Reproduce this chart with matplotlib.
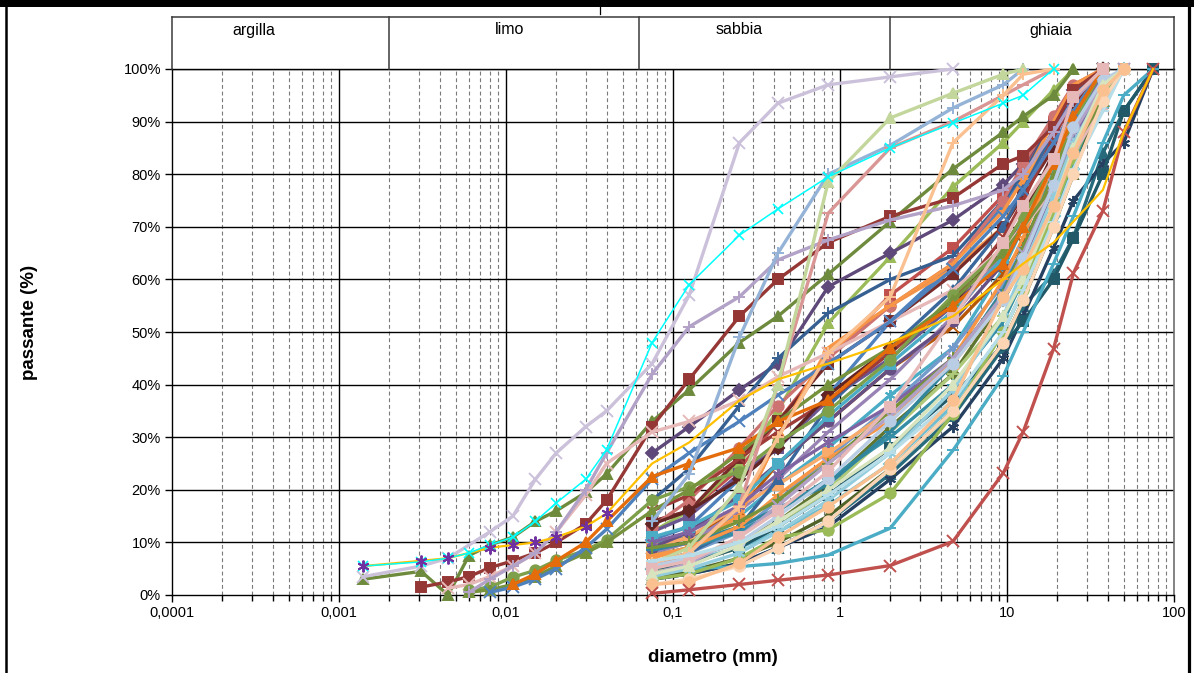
import numpy as np
import matplotlib
matplotlib.use("Agg")
import matplotlib.pyplot as plt
from matplotlib.lines import Line2D
from matplotlib.patches import Rectangle
from matplotlib.ticker import FixedLocator, NullFormatter

plt.rcParams['font.family'] = ['Liberation Sans', 'DejaVu Sans']

# ---------------------------------------------------------------------------
# Diameters (mm): sedimentation readings and sieve openings
hydro_mm = [0.0014, 0.0031, 0.0045, 0.006, 0.008, 0.011, 0.015, 0.02, 0.03, 0.04]
sieve_mm = [0.075, 0.125, 0.25, 0.425, 0.85, 2, 4.75, 9.5, 12.5, 19, 25, 37.5, 50, 75]

# Percent passing, samples with sedimentation analysis (fine part, sieve part)
h01_fine = [3, 4.5, 0, 7.5, 9.5, 11, 14, 16, 19.5, 23]
h01_sieve = [33, 39, 48, 53, 61, 71, 81, 88, 91, 95, 100]
h02_fine = [3.5, 5.5, 7, None, 12, 15, 22, 27, 32, 35]
h02_sieve = [44, 57, 86, 93.5, 97, 98.5, 100]
h03_fine = [5.5, 6.5, 7, None, 9, 9.5, 10, 11, 13, 15.5]
h03_sieve = [25, 29, 37, 41, 44, 48, 53, 60, 63, 67, 71, 77, 88, 100]
h04_fine = [None, 1.5, 2.5, 3.5, 5.2, 6.5, 8, 10, 13.5, 18]
h04_sieve = [32, 41, 53, 60, 67, 72, 75.5, 82, 83.5, 89, 96, 100]
h05_fine = [None, None, 1.3, 2, 3.5, 5.5, 8, 12, 19, 25]
h05_sieve = [31, 33, 37, 41.5, 46, 52, 58, 66, 70, 77, 84, 93, 100]
h06_fine = [None, None, None, 0.9, 1.5, 3.4, 4.7, 6.6, 8.5, 10.5]
h06_sieve = [18, 20.6, 23.4, 29, 35, 44.7, 57, 66, 72, 82, 90, 100]
h07_fine = [None, None, None, 0.5, 1, 2, 3.5, 5.5, 8, 10]
h07_sieve = [16, 20, 27, 33, 40, 47, 56, 65, 70, 78, 85, 94, 100]
h08_fine = [None, None, None, None, 0.5, 1.5, 3, 5, 9, 12.5]
h08_sieve = [22, 27, 33, 38, 44, 52, 62, 72, 77, 86, 92, 100]
h09_fine = [5.5, 6.3, 7, 8, 9.5, 11, 14, 17.5, 22, 27.6]
h09_sieve = [48, 59, 68.4, 73.4, 79.5, 85, 89.7, 93.5, 95, 100]
h10_fine = [None, None, None, 0.5, 3, 5.5, 8, 12, 20, 27]
h10_sieve = [42, 51, 56.7, 63.7, 67.5, 71.3, 74, 77, 80, 88, 94, 100]
h11_fine = [None, None, None, None, None, 2, 4, 6.5, 10, 14]
h11_sieve = [22.5, 25, 28, 33, 37, 47, 55, 63, 70, 82, 91, 100]

# Percent passing, sieve-only samples
s01 = [10.5, 13, 22, 28, 38, 52, 63, 74, 80, 88, 95, 100]
s02 = [14, 16, 24, 33, 45, 57, 66, 76, 81, 90, 96, 100]
s03 = [12, 16, 25, 35, 51.7, 64.3, 77.6, 86, 90, 96, 100]
s04 = [27, 32, 39, 44, 58.6, 65, 71.3, 78, 82, 90, 96, 100]
s05 = [10, 11, 15, 21, 28, 38, 47, 62, 70, 82, 90, 100]
s06 = [8, 10, 15, 30, 46, 55, 62, 70, 78, 88, 94, 100]
s07 = [18, 24, 36, 45, 53.6, 60, 64.5, 75, 80, 90, 96, 100]
s08 = [14, 16, 26, 33, 44, 52, 61, 70, 76, 85, 93, 100]
s09 = [5, 7, 10, 14, 21, 32, 42, 56, 63, 76, 86, 100]
s10 = [12, 15, 23, 28, 37, 45, 55, 64, 70, 81, 89, 100]
s11 = [3, 4, 6, 9, 14, 23, 34, 47, 55, 61, 68, 84, 92, 100]
s12 = [9, 11, 16, 25, 33, 43, 51, 61, 67, 78, 87, 100]
s13 = [6, 8, 12, 18, 26, 36, 47, 59, 66, 78, 87, 97, 100]
s14 = [13, 18, 28, 36, 45, 55, 63, 75, 82, 91, 97, 100]
s15 = [4.5, 6, 9, 13, 20, 31, 42, 53, 60, 73, 84, 95, 100]
s16 = [8, 10, 16, 22, 31, 41, 53, 65, 72, 84, 92, 100]
s17 = [5, 6.5, 9, 12, 17, 25, 36, 50, 58, 72, 81, 93, 100]
s18 = [9, 11, 17, 21, 27, 35, 44, 56, 63, 76, 85, 96, 100]
s19 = [6, 8, 13, 22, 36, 47, 58, 70, 77, 88, 95, 100]
s20 = [16, 19, 26, 31, 37, 46, 56, 68, 75, 87, 94, 100]
s21 = [9, 12, 19, 25, 33, 43, 52, 63, 70, 82, 90, 100]
s22 = [7.5, 9, 12, 16, 22, 30, 40, 52, 60, 73, 82, 94, 100]
s23 = [7, 9, 15, 30, 47, 55, 63, 73, 79, 90, 97, 100]
s24 = [3, 4, 6, 9, 13, 22, 32, 45, 53, 66, 75, 82, 86, 100]
s25 = [13.5, 16, 22, 28, 38, 47, 55.5, 66, 72, 84, 92, 100]
s26 = [3, 4.5, 7, 10, 15, 24, 35, 48, 56, 70, 80, 95, 100]
s27 = [11, 13, 18, 25, 34, 44, 54, 64, 70, 80, 88, 100]
s28 = [5, 6, 9, 13, 19, 28, 38, 47.5, 52, 60, 67.8, 80, 92, 100]
s29 = [4, 5, 5.4, 6, 7.6, 12.7, 27.5, 41.6, 50, 63, 72, 86, 95, 100]
s30 = [8.5, 10, 13, 16.5, 21, 31, 44, 58, 66, 80, 90, 100]
s31 = [3, 4, 7, 11, 12.4, 19.3, 34.4, 50, 58, 73, 83, 95, 100]
s32 = [10, 12, 17, 23, 29, 36, 45, 57, 64, 76, 86, 100]
s33 = [7.5, 9, 13, 19, 26, 33, 45, 60, 68, 82, 92, 100]
s34 = [9, 10, 14, 18, 25, 35, 45, 57, 66, 80, 90, 100]
s35 = [14, 23, 49, 65, 80, 85.5, 92.6, 97, 100]
s36 = [5, 8, 17, 40, 72.6, 85, 90, 95, 97, 100]
s37 = [6, 9, 20.5, 40, 78.5, 90.7, 95.4, 99, 100]
s38 = [4, 6, 11, 17, 25, 34, 45, 57, 65, 78, 88, 97, 100]
s39 = [3.5, 5, 8, 12, 18, 27, 39, 53, 62, 76, 86, 96, 100]
s40 = [6, 8, 16.8, 30, 46, 56.7, 86, 95, 99, 100]
s41 = [5.5, 7, 10, 15, 22, 33, 44, 56, 64, 78, 89, 98, 100]
s42 = [5, 6.5, 11, 16, 23.5, 35.8, 52.6, 67, 74, 82.8, 94.6, 100]
s43 = [4, 5.5, 9.5, 14, 20, 28, 40, 53, 60, 74, 85, 97, 100]
s44 = [6.5, 7.5, 10, 13, 19, 27, 37, 50, 58, 71, 81, 92, 100]
s45 = [2, 3, 5.5, 9, 14, 24, 35, 48, 56, 70, 80, 94, 100]
s46 = [2, 2.5, 6, 11, 16.8, 25, 37, 56.6, 62, 74, 84, 96, 100]
s47 = [0.3, 1, 2, 2.8, 3.8, 5.6, 10.2, 23.2, 31, 46.8, 61.2, 73, 88, 100]

# Axis labels and tick texts
x_ticks = [0.0001, 0.001, 0.01, 0.1, 1, 10, 100]
x_tick_labels = ["0,0001", "0,001", "0,01", "0,1", "1", "10", "100"]
y_ticks = [0, 10, 20, 30, 40, 50, 60, 70, 80, 90, 100]
y_tick_labels = [f"{v}%" for v in y_ticks]
class_names = ["argilla", "limo", "sabbia", "ghiaia"]
class_limits = [0.0001, 0.002, 0.063, 2, 100]

# ---------------------------------------------------------------------------
# Drawing order and styles (dark series first, pale series on top)
ASTER = (6, 2, 0)
series = [
    (None, s01, "#4F81BD", "D"), (None, s02, "#C0504D", "s"),
    (None, s03, "#9BBB59", "^"), (None, s04, "#5F497A", "D"),
    (None, s05, "#4BACC6", ASTER), (None, s06, "#F79646", "o"),
    (None, s07, "#376092", "+"), (None, s08, "#772C2A", "s"),
    (None, s09, "#5F7530", "D"), (None, s10, "#6A5690", "s"),
    (None, s11, "#276A7C", "^"), (None, s12, "#B65708", "x"),
    (None, s13, "#729ACA", ASTER), (None, s14, "#CD7371", "o"),
    (None, s15, "#AFC97A", "+"), (None, s16, "#9983B5", "_"),
    (None, s17, "#6FBDD1", "D"), (None, s18, "#F9AB6B", "s"),
    (None, s19, "#3A679C", "^"), (None, s20, "#9E3B38", "x"),
    (None, s21, "#664F83", "o"), (None, s22, "#358EA6", "+"),
    (None, s23, "#F79646", "_"), (None, s24, "#254061", ASTER),
    (None, s25, "#632523", "D"), (None, s26, "#4F6228", "^"),
    (None, s27, "#4BACC6", "s"), (None, s28, "#215968", "s"),
    (None, s29, "#4BACC6", "_"), (None, s30, "#31859C", "_"),
    (None, s31, "#9BBB59", "o"), (None, s32, "#8064A2", ASTER),
    (None, s33, "#F79646", "_"), (None, s34, "#77933C", "+"),
    (h01_fine, h01_sieve, "#6E8B3D", "^"),
    (h02_fine, h02_sieve, "#CCC1DA", "x"),
    (h04_fine, h04_sieve, "#953735", "s"),
    (h05_fine, h05_sieve, "#E6B9B8", "x"),
    (h06_fine, h06_sieve, "#7EA04A", "o"),
    (h07_fine, h07_sieve, "#76923C", "^"),
    (h08_fine, h08_sieve, "#4F81BD", "x"),
    (h10_fine, h10_sieve, "#B3A2C7", "+"),
    (h11_fine, h11_sieve, "#E46C0A", "^"),
    (None, s35, "#95B3D7", "+"), (None, s36, "#D99694", "_"),
    (None, s37, "#C3D69B", "^"), (None, s38, "#B2A1C7", "x"),
    (None, s39, "#93CDDD", ASTER), (None, s40, "#FAC090", "+"),
    (None, s41, "#B9CDE5", "o"), (None, s42, "#E6B9B8", "s"),
    (None, s43, "#D7E4BD", "^"), (None, s44, "#B7DEE8", "_"),
    (None, s45, "#FCD5B5", "o"), (None, s46, "#FAC090", "o"),
    (None, s47, "#C0504D", "x"),
]

W, H = 1194, 673
fig = plt.figure(figsize=(W / 100, H / 100), dpi=100)


def fx(px):
    return px / W


def fy(py):
    return 1 - py / H


X0, X1, Y0, Y1 = 172, 1174, 595, 69
ax = fig.add_axes([fx(X0), fy(Y0), fx(X1) - fx(X0), fy(Y1) - fy(Y0)])
ax.set_xscale("log")
ax.set_xlim(1e-4, 100)
ax.set_ylim(0, 100)


def points(fine, sieve):
    xs, ys = [], []
    if fine is not None:
        for d, v in zip(hydro_mm, fine):
            if v is not None:
                xs.append(d)
                ys.append(v)
    for d, v in zip(sieve_mm, sieve):
        if v is not None:
            xs.append(d)
            ys.append(v)
    return xs, ys


def draw(fine, sieve, color, marker, lw=2.4, z=3):
    xs, ys = points(fine, sieve)
    filled = marker in ("D", "s", "^", "o")
    ms = {"D": 6.5, "s": 7.5, "^": 7.5, "o": 7.5}.get(marker, 8)
    ax.plot(xs, ys, color=color, lw=lw, marker=marker, ms=ms,
            mfc=color if filled else "none", mec=color,
            mew=1.4, zorder=z, solid_joinstyle="round", clip_on=False)


for i, (fine, sieve, color, marker) in enumerate(series):
    draw(fine, sieve, color, marker, z=3 + i * 0.01)

# thin cyan sample and yellow sample with purple star readings
xs, ys = points(h09_fine, h09_sieve)
ax.plot(xs, ys, color="#00FFFF", lw=1.1, marker="x", ms=7, mew=1.2,
        zorder=4.5, clip_on=False)
xs, ys = points(h03_fine, h03_sieve)
ax.plot(xs, ys, color="#FFC000", lw=1.6, zorder=4.4, clip_on=False)
xs_f, ys_f = points(h03_fine, [])
ax.plot(xs_f, ys_f, ls="none", marker=ASTER, ms=8.5, mew=1.4,
        mec="#7030A0", zorder=4.6, clip_on=False)

# grid
ax.set_xticks(x_ticks)
ax.set_xticklabels(x_tick_labels)
minor = [m * 10.0 ** e for e in range(-4, 2) for m in range(2, 10)]
ax.xaxis.set_minor_locator(FixedLocator(minor))
ax.xaxis.set_minor_formatter(NullFormatter())
ax.set_yticks(y_ticks)
ax.set_yticklabels(y_tick_labels)
for d in minor:
    ax.axvline(d, color="#7A7A7A", lw=0.8, ls=(0, (3.5, 2.5)), zorder=1)
for d in x_ticks[1:-1]:
    ax.axvline(d, color="#000000", lw=1.0, zorder=1.2)
for v in y_ticks[1:]:
    ax.axhline(v, color="#000000", lw=1.0, zorder=1.2)

ax.tick_params(axis="both", which="major", direction="out", length=5,
               width=1, labelsize=10.5, colors="#000000", pad=3)
ax.tick_params(axis="x", which="minor", direction="out", length=4, width=1)
for side in ("left", "bottom", "top"):
    ax.spines[side].set_color("#000000")
    ax.spines[side].set_linewidth(1.0)
ax.spines["right"].set_color("#6E6E6E")
ax.spines["right"].set_linewidth(1.2)

# soil class header
hdr_top = 17
tr = fig.transFigure
fig.add_artist(Line2D([fx(X0), fx(X1)], [fy(hdr_top), fy(hdr_top)],
                      color="#3A3A3A", lw=1.1, transform=tr))


def data_to_px(d):
    return X0 + (X1 - X0) * (np.log10(d) + 4) / 6


for lim in class_limits:
    px = data_to_px(lim)
    fig.add_artist(Line2D([fx(px), fx(px)], [fy(hdr_top), fy(Y1)],
                          color="#3A3A3A", lw=1.1, transform=tr))
label_px = [254, 510, 739, 1051]
for name, px in zip(class_names, label_px):
    fig.text(fx(px), fy(30), name, ha="center", va="center", fontsize=11.5)

# axis titles
fig.text(fx(30), fy(322), "passante (%)", rotation=90, ha="center",
         va="center", fontsize=13.5, fontweight="bold")
fig.text(fx(713), fy(658), "diametro (mm)", ha="center", va="center",
         fontsize=13.5, fontweight="bold")

# page frame
fig.add_artist(Rectangle((0, fy(7)), 1, 1 - fy(7), color="#000000",
                         transform=tr, lw=0))
fig.add_artist(Line2D([fx(6), fx(6)], [0, fy(7)], color="#000000", lw=1.8,
                      transform=tr))
fig.add_artist(Line2D([fx(1188.5), fx(1188.5)], [0, fy(7)], color="#000000",
                      lw=2.3, transform=tr))
fig.add_artist(Line2D([fx(600), fx(600)], [fy(7), fy(14)], color="#000000",
                      lw=0.9, transform=tr))

fig.savefig("out.png", dpi=100)
